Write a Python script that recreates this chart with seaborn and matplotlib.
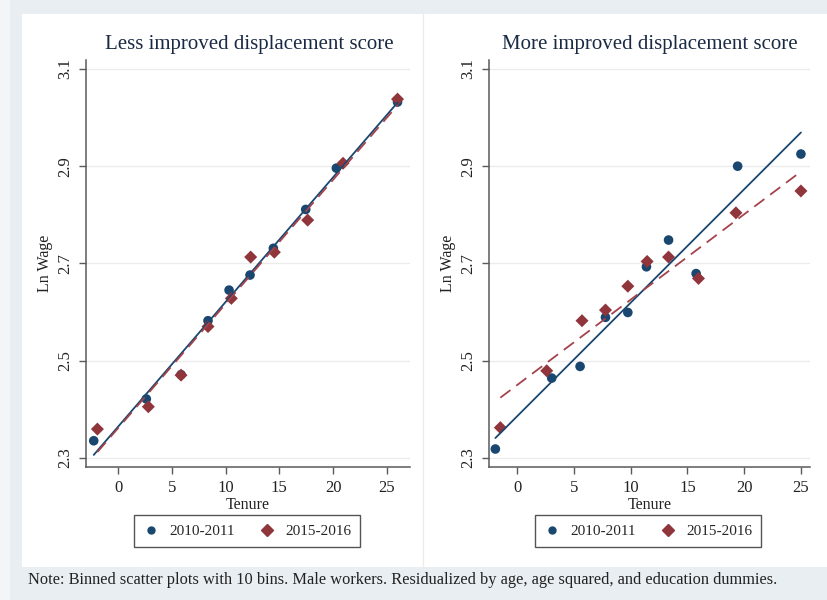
import numpy as np
import matplotlib.pyplot as plt
import matplotlib.patches as mpatches
from matplotlib.lines import Line2D
import seaborn as sns

# binned scatter values
left_x_10 = [-2.26, 2.63, 5.86, 8.37, 10.33, 12.28, 14.45, 17.46, 20.31, 26.00]
left_y_10 = [2.335, 2.421, 2.471, 2.582, 2.645, 2.676, 2.731, 2.811, 2.896, 3.032]
left_x_15 = [-1.92, 2.82, 5.86, 8.37, 10.54, 12.34, 14.54, 17.64, 20.93, 26.00]
left_y_15 = [2.359, 2.405, 2.470, 2.570, 2.628, 2.713, 2.723, 2.789, 2.906, 3.038]

right_x_10 = [-1.94, 3.03, 5.53, 7.77, 9.74, 11.38, 13.33, 15.76, 19.42, 25.00]
right_y_10 = [2.318, 2.464, 2.488, 2.589, 2.599, 2.693, 2.748, 2.679, 2.900, 2.925]
right_x_15 = [-1.50, 2.59, 5.70, 7.77, 9.74, 11.44, 13.33, 15.97, 19.27, 25.00]
right_y_15 = [2.362, 2.479, 2.582, 2.604, 2.653, 2.704, 2.713, 2.669, 2.804, 2.849]

titles = ["Less improved displacement score", "More improved displacement score"]
labels = ["2010-2011", "2015-2016"]
yticks = [2.3, 2.5, 2.7, 2.9, 3.1]
xticks = [0, 5, 10, 15, 20, 25]

navy = "#1a476f"
maroon = "#90353b"

sns.set_style("white")
plt.rcParams['font.family'] = ['Liberation Serif', 'DejaVu Serif']

W, H = 827, 600
fig = plt.figure(figsize=(8.27, 6.0), dpi=100, facecolor="#e8eef2")

# white plot region + strips (behind the axes)
fig.patches.append(mpatches.Rectangle((0, 0), 10 / W, 1, transform=fig.transFigure,
                                      facecolor="#f3f6f8", edgecolor="none", zorder=-2))
fig.patches.append(mpatches.Rectangle((22 / W, (H - 567) / H), 1 - 22 / W, (567 - 14) / H,
                                      transform=fig.transFigure, facecolor="white",
                                      edgecolor="none", zorder=-2))
fig.lines.append(Line2D([423 / W, 423 / W], [(H - 567) / H, (H - 14) / H],
                        transform=fig.transFigure, color="#ececec", lw=1, zorder=-1))


def px_axes(x0, x1, y0, y1):
    return fig.add_axes([x0 / W, (H - y1) / H, (x1 - x0) / W, (y1 - y0) / H])


ax1 = px_axes(86, 410, 60, 467)
ax2 = px_axes(489, 810, 60, 467)

panels = [
    (ax1, left_x_10, left_y_10, left_x_15, left_y_15, (-2.98, 27.16), 249, titles[0]),
    (ax2, right_x_10, right_y_10, right_x_15, right_y_15, (-2.5, 25.8), 650, titles[1]),
]

for ax, bx, by, rx, ry, xlim, cx, title in panels:
    ax.set_facecolor("white")
    sns.scatterplot(x=bx, y=by, ax=ax, color=navy, marker="o", s=48,
                    edgecolor="none", zorder=3)
    sns.scatterplot(x=rx, y=ry, ax=ax, color=maroon, marker="D", s=44,
                    edgecolor="none", zorder=4)
    sns.regplot(x=bx, y=by, ax=ax, scatter=False, ci=None, truncate=True,
                line_kws=dict(color=navy, lw=1.3, zorder=5))
    sns.regplot(x=rx, y=ry, ax=ax, scatter=False, ci=None, truncate=True,
                line_kws=dict(color="#a5434b", lw=1.3, ls=(0, (7, 4)), zorder=6))

    ax.set_xlim(*xlim)
    ax.set_ylim(2.281, 3.1185)
    ax.set_xticks(xticks)
    ax.set_yticks(yticks)
    ax.set_yticklabels([f"{v:.1f}" for v in yticks])
    ax.yaxis.grid(True, color="#ececec", lw=1)
    ax.xaxis.grid(False)
    for s in ["top", "right"]:
        ax.spines[s].set_visible(False)
    for s in ["left", "bottom"]:
        ax.spines[s].set_color("#5a5a5a")
        ax.spines[s].set_linewidth(1.1)
    ax.tick_params(axis="both", direction="out", length=5, width=1,
                   color="#5a5a5a", labelsize=12, labelcolor="#222222", pad=4)
    ax.tick_params(axis="x", bottom=True)
    ax.tick_params(axis="y", left=True, labelrotation=90)
    for lab in ax.get_yticklabels():
        lab.set_va("center")
    ax.set_xlabel("Tenure", fontsize=11.5, color="#222222", labelpad=1)
    ax.set_ylabel("Ln Wage", fontsize=11.5, color="#222222", labelpad=3)

    fig.text(cx / W, (H - 45) / H, title,
             ha="center", va="center", fontsize=15, color="#1a2a44")

    handles = [
        Line2D([], [], marker="o", color=navy, ls="none", markersize=5),
        Line2D([], [], marker="D", color=maroon, ls="none", markersize=6),
    ]
    lx = (cx - 2) / W
    fig.legend(handles, labels, loc="center", bbox_to_anchor=(lx, (H - 531) / H),
               ncol=2, fontsize=11, frameon=True, fancybox=False,
               edgecolor="#555555", framealpha=1, handletextpad=0.6,
               columnspacing=1.6, borderpad=0.6, handlelength=1.1)

fig.text(28 / W, (H - 580) / H,
         "Note: Binned scatter plots with 10 bins. Male workers. Residualized by age, "
         "age squared, and education dummies.",
         ha="left", va="center", fontsize=11.8, color="#222222")

fig.savefig("out.png", dpi=100, facecolor=fig.get_facecolor())
